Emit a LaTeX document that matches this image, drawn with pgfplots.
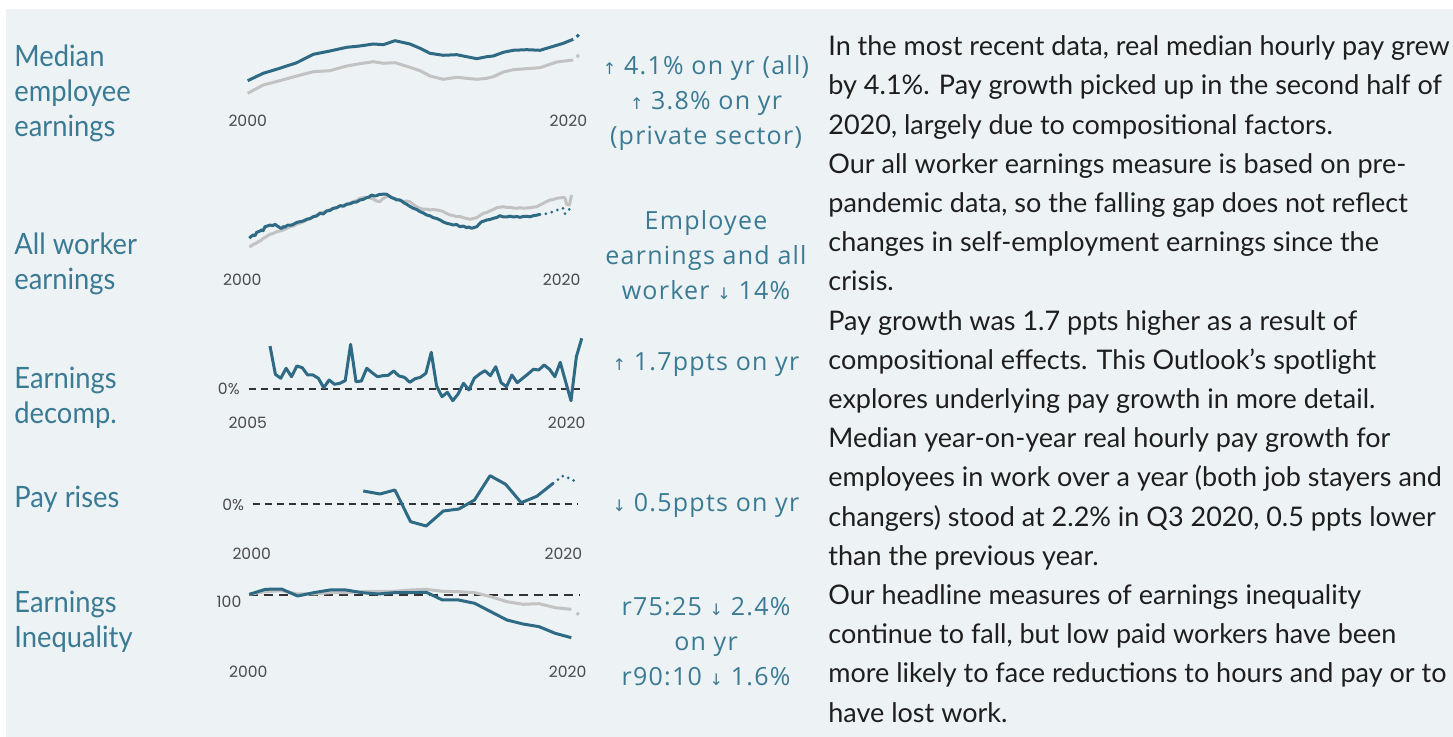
\documentclass[border=0pt]{standalone}
\usepackage{pgfplots}
\pgfplotsset{compat=1.18}
\usepackage{fontspec}
\setmainfont{Lato}
\newfontfamily\bodyfont[FakeStretch=0.93]{Lato}
\newfontfamily\parafont{Lato}
\newfontfamily\midfont[LetterSpace=5]{Open Sans}
\newfontfamily\tickfont{Poppins}
\newfontfamily\symfont{DejaVu Sans}

\definecolor{bg}{HTML}{EDF2F5}
\definecolor{linec}{HTML}{2E6A84}
\definecolor{labc}{HTML}{3A7A93}
\definecolor{lgrey}{HTML}{C2C2C2}
\definecolor{tickc}{HTML}{4A4A4A}
\definecolor{txt}{HTML}{1E1E1E}

\newcommand\up{{\symfont\fontsize{8}{8}\selectfont ↑}}
\newcommand\dn{{\symfont\fontsize{8}{8}\selectfont ↓}}

\pgfplotsset{spark/.style={hide axis, clip=false, anchor=south west}}
\tikzset{
  lab/.style={anchor=base west, inner sep=0, text=labc, font=\bodyfont\fontsize{14.7}{17}\selectfont},
  mid/.style={anchor=base, inner sep=0, text=labc, font=\midfont\fontsize{12.5}{14}\selectfont},
  tick/.style={inner sep=0, text=tickc, font=\tickfont\fontsize{7.8}{8}\selectfont},
  para/.style={anchor=base west, inner sep=0, text=txt, font=\parafont\fontsize{13.5}{16}\selectfont},
  solidl/.style={line width=1.5pt, line join=round},
  dotl/.style={line width=1.5pt, line cap=round, dash pattern=on 0pt off 3pt},
  zero/.style={line width=1pt, color=black!80, dash pattern=on 3.5pt off 2.5pt}
}

\begin{document}
\begin{tikzpicture}[x=0.5pt, y=-0.5pt]
\path[use as bounding box] (0,0) rectangle (1453,737);
\fill[white] (0,0) rectangle (1453,737);
\fill[bg] (6,9) rectangle (1453,737);

% ---- median employee earnings
\begin{axis}[spark, at={(123.85pt,-55pt)}, x=8.015pt, y=0.5pt,
  xmin=2000, xmax=2021, ymin=0, ymax=80]
\addplot[lgrey, solidl] coordinates {(2000.0,16.7) (2000.97,25.0) (2002.0,29.3) (2003.06,34.0) (2004.1,38.3) (2005.13,39.3) (2006.18,44.0) (2007.0,46.3) (2007.84,48.3) (2008.46,46.7) (2009.19,47.3) (2010.12,42.7) (2010.75,39.3) (2011.37,34.0) (2012.2,30.7) (2013.04,32.7) (2013.66,31.7) (2014.29,30.7) (2014.91,31.7) (2015.32,33.3) (2015.95,38.0) (2016.57,40.3) (2017.4,41.3) (2018.24,42.3) (2018.86,45.7) (2019.28,48.0) (2020.31,50.0)};
\addplot[linec, solidl] coordinates {(2000.0,29.3) (2000.97,36.7) (2002.0,41.7) (2003.06,47.3) (2004.1,55.7) (2005.13,59.0) (2006.18,62.7) (2007.0,64.0) (2007.84,66.0) (2008.46,65.3) (2009.19,69.3) (2010.12,66.0) (2010.75,61.7) (2011.37,56.7) (2012.2,54.7) (2013.04,55.3) (2013.66,53.3) (2014.29,51.3) (2014.91,53.3) (2015.32,54.0) (2015.95,57.7) (2016.57,59.7) (2017.4,60.3) (2018.24,59.7) (2018.86,62.7) (2019.69,66.7) (2020.31,70.7)};
\addplot[only marks, mark=*, mark size=0.8pt, lgrey] coordinates {(2020.59,54.0)};
\addplot[only marks, mark=*, mark size=0.8pt, linec] coordinates {(2020.59,74.3)};
\end{axis}

% ---- all worker earnings
\begin{axis}[spark, at={(121.15pt,-130pt)}, x=7.985pt, y=0.5pt,
  xmin=2000, xmax=2021, ymin=0, ymax=80]
\addplot[lgrey, solidl] coordinates {(2000.44,13.3) (2000.55,14.0) (2000.69,15.7) (2000.85,16.5) (2001.00,18.3) (2001.16,19.5) (2001.32,21.7) (2001.52,23.5) (2001.73,25.7) (2001.94,26.5) (2002.15,28.3) (2002.36,29.0) (2002.57,30.0) (2002.78,31.5) (2002.99,33.3) (2003.20,34.0) (2003.40,35.7) (2003.72,37.5) (2004.03,40.0) (2004.24,41.0) (2004.45,43.3) (2004.66,45.0) (2004.87,47.3) (2005.07,47.8) (2005.28,49.0) (2005.49,50.5) (2005.70,51.7) (2005.91,52.5) (2006.12,54.0) (2006.33,54.8) (2006.54,56.0) (2006.75,57.0) (2006.95,58.3) (2007.16,59.5) (2007.37,61.7) (2007.58,62.5) (2007.79,62.7) (2008.00,62.0) (2008.20,61.0) (2008.41,59.0) (2008.62,58.3) (2008.78,61.0) (2008.94,62.7) (2009.10,63.5) (2009.25,63.3) (2009.46,62.0) (2009.67,61.0) (2009.88,59.5) (2010.08,58.3) (2010.29,59.0) (2010.50,58.3) (2010.71,55.5) (2010.92,53.3) (2011.13,51.5) (2011.34,50.7) (2011.54,50.8) (2011.75,50.0) (2011.96,50.5) (2012.17,50.0) (2012.38,49.5) (2012.59,48.3) (2012.80,46.5) (2013.01,45.0) (2013.21,44.5) (2013.42,43.3) (2013.63,43.5) (2013.84,42.3) (2014.05,41.5) (2014.26,40.7) (2014.47,41.5) (2014.68,42.3) (2014.88,44.5) (2015.09,46.7) (2015.30,47.5) (2015.51,49.0) (2015.72,50.5) (2015.93,52.3) (2016.14,52.8) (2016.35,53.3) (2016.55,52.5) (2016.76,52.7) (2016.97,52.0) (2017.18,51.7) (2017.39,52.3) (2017.60,51.7) (2017.81,52.0) (2018.01,52.3) (2018.22,52.8) (2018.43,53.3) (2018.64,55.0) (2018.85,56.7) (2019.06,58.5) (2019.27,60.0) (2019.48,60.5) (2019.69,61.7) (2019.85,62.0) (2020.00,62.3) (2020.10,62.8) (2020.21,61.7) (2020.31,55.7) (2020.48,55.0) (2020.62,65.0)};
\addplot[linec, solidl] coordinates {(2000.44,21.7) (2000.55,23.5) (2000.69,25.0) (2000.80,24.3) (2000.90,27.7) (2001.05,28.5) (2001.21,30.0) (2001.30,29.2) (2001.42,33.3) (2001.58,34.0) (2001.73,35.0) (2001.90,34.3) (2002.05,35.7) (2002.15,34.5) (2002.26,33.3) (2002.37,32.0) (2002.47,31.7) (2002.57,33.5) (2002.67,32.7) (2002.78,34.3) (2002.88,35.0) (2003.04,34.7) (2003.20,35.7) (2003.40,37.5) (2003.61,38.3) (2003.82,39.0) (2004.03,40.7) (2004.24,41.5) (2004.45,43.3) (2004.66,44.0) (2004.87,46.7) (2005.07,46.0) (2005.28,49.0) (2005.49,49.5) (2005.70,51.7) (2005.91,52.2) (2006.12,54.3) (2006.33,53.8) (2006.54,55.7) (2006.75,56.2) (2006.95,57.7) (2007.16,58.0) (2007.37,60.0) (2007.58,60.6) (2007.79,62.3) (2007.95,63.0) (2008.10,65.0) (2008.25,64.0) (2008.41,64.3) (2008.57,65.5) (2008.73,65.7) (2008.90,66.0) (2009.04,65.7) (2009.20,64.0) (2009.35,62.3) (2009.50,61.5) (2009.67,60.0) (2009.83,60.2) (2009.98,59.0) (2010.14,57.0) (2010.29,55.7) (2010.50,53.5) (2010.71,51.7) (2010.92,50.5) (2011.13,48.3) (2011.34,47.0) (2011.54,45.0) (2011.75,44.2) (2011.96,42.3) (2012.17,41.5) (2012.38,40.0) (2012.59,38.0) (2012.80,36.7) (2013.00,36.0) (2013.21,35.0) (2013.42,35.5) (2013.63,33.3) (2013.84,34.0) (2014.05,32.3) (2014.20,33.0) (2014.36,31.7) (2014.52,32.5) (2014.68,33.3) (2014.84,36.0) (2014.99,38.3) (2015.15,39.0) (2015.30,40.0) (2015.51,40.5) (2015.72,41.7) (2015.93,42.5) (2016.14,44.3) (2016.35,43.0) (2016.55,43.0) (2016.76,43.8) (2016.97,43.0) (2017.18,43.5) (2017.39,42.7) (2017.60,43.5) (2017.81,43.7) (2018.01,43.2) (2018.22,44.3) (2018.43,44.8) (2018.64,45.7)};
\addplot[linec, dotl] coordinates {(2018.64,45.7) (2019.06,46.3) (2019.48,48.3) (2019.89,51.0) (2020.10,51.7) (2020.21,46.3) (2020.48,50.7) (2020.62,55.7)};
\end{axis}

% ---- earnings decomposition
\begin{axis}[spark, at={(124.25pt,-204.5pt)}, x=10.75pt, y=5pt,
  xmin=2005, xmax=2021, ymin=-2, ymax=6]
\addplot[zero] coordinates {(2005,0) (2020.42,0)};
\addplot[linec, solidl] coordinates {(2006.00,4.30) (2006.25,1.47) (2006.50,1.07) (2006.75,2.07) (2007.00,1.23) (2007.25,2.30) (2007.50,2.13) (2007.75,1.40) (2008.00,1.40) (2008.25,1.07) (2008.50,0.13) (2008.75,0.90) (2009.00,0.47) (2009.25,0.57) (2009.50,0.83) (2009.75,4.47) (2010.00,0.73) (2010.25,0.80) (2010.50,2.07) (2010.75,1.63) (2011.00,1.23) (2011.25,1.33) (2011.50,1.37) (2011.75,1.80) (2012.00,1.30) (2012.25,1.17) (2012.50,0.67) (2012.75,1.03) (2013.00,1.17) (2013.25,1.57) (2013.50,3.67) (2013.75,0.30) (2014.00,-0.77) (2014.25,-0.33) (2014.50,-1.17) (2014.75,-0.50) (2015.00,0.57) (2015.25,-0.10) (2015.50,1.07) (2015.75,1.50) (2016.00,1.83) (2016.25,1.33) (2016.50,2.23) (2016.75,0.63) (2017.00,0.23) (2017.25,1.40) (2017.50,0.63) (2017.75,1.07) (2018.00,1.50) (2018.25,1.97) (2018.50,1.90) (2018.75,2.40) (2019.00,1.97) (2019.25,1.23) (2019.50,2.67) (2019.75,0.73) (2020.00,-1.17) (2020.25,3.23) (2020.50,5.07)};
\end{axis}

% ---- pay rises
\begin{axis}[spark, at={(125.85pt,-267.15pt)}, x=7.79pt, y=5pt,
  xmin=2000, xmax=2021.5, ymin=-3, ymax=4]
\addplot[zero] coordinates {(2000.06,0) (2020.96,0)};
\addplot[linec, solidl] coordinates {(2007.16,1.33) (2008.23,1.03) (2009.19,1.43) (2010.20,-1.74) (2011.20,-2.17) (2012.30,-0.67) (2013.30,-0.47) (2014.30,0.43) (2015.30,2.86) (2016.30,2.00) (2017.30,0.16) (2018.30,0.80) (2019.35,2.10)};
\addplot[linec, dotl] coordinates {(2019.35,2.10) (2020.00,2.86) (2020.75,2.33)};
\end{axis}

% ---- earnings inequality
\begin{axis}[spark, at={(124.65pt,-325.5pt)}, x=8.05pt, y=2pt,
  xmin=2000, xmax=2021, ymin=86, ymax=104]
\addplot[line width=1.3pt, color=black!80, dash pattern=on 4.5pt off 3pt] coordinates {(2000,100) (2020.54,100)};
\addplot[lgrey, solidl] coordinates {(2000,100.17) (2001,100.83) (2002,101.08) (2003,100.25) (2004,100.25) (2005,100.58) (2006,100.58) (2007,100.83) (2008,100.92) (2009,100.92) (2010,101.25) (2011,101.42) (2012,100.92) (2013,100.83) (2014,100.58) (2015,99.58) (2016,98.33) (2017,97.67) (2018,97.83) (2019,96.83) (2020,96.42)};
\addplot[linec, solidl] coordinates {(2000,100.17) (2001,101.42) (2002,101.50) (2003,99.75) (2004,100.58) (2005,101.25) (2006,101.25) (2007,100.58) (2008,100.25) (2009,100.58) (2010,100.58) (2011,100.67) (2012,98.75) (2013,98.75) (2014,97.92) (2015,95.83) (2016,93.75) (2017,92.75) (2018,92.08) (2019,90.42) (2020,89.33)};
\addplot[only marks, mark=*, mark size=0.8pt, lgrey] coordinates {(2020.4,95.33)};
\end{axis}

% ---- tick labels
\node[tick] at (247.7,120.5) {2000};
\node[tick] at (568.3,120.5) {2020};
\node[tick] at (242.3,280) {2000};
\node[tick] at (561.7,280) {2020};
\node[tick] at (247.7,423) {2005};
\node[tick] at (566.7,423) {2020};
\node[tick, anchor=east] at (240,389) {0\%};
\node[tick] at (251.7,554) {2000};
\node[tick] at (563.3,554) {2020};
\node[tick, anchor=east] at (244.3,505) {0\%};
\node[tick] at (248.3,672) {2000};
\node[tick] at (567.7,672) {2020};
\node[tick, anchor=east] at (241.7,602) {100};

% ---- row labels
\node[lab] at (14,66.5) {Median};
\node[lab] at (14,101.5) {employee};
\node[lab] at (14,136.5) {earnings};
\node[lab] at (14,254.5) {All worker};
\node[lab] at (14,289.5) {earnings};
\node[lab] at (14,388.5) {Earnings};
\node[lab] at (14,423.5) {decomp.};
\node[lab] at (14,507.5) {Pay rises};
\node[lab] at (14,612.5) {Earnings};
\node[lab] at (14,647.5) {Inequality};

% ---- headline changes
\node[mid] at (706,74.5) {\up\ 4.1\% on yr (all)};
\node[mid] at (706,109.5) {\up\ 3.8\% on yr};
\node[mid] at (706,144.5) {(private sector)};
\node[mid] at (706,230) {Employee};
\node[mid] at (706,265) {earnings and all};
\node[mid] at (706,300) {worker \dn\ 14\%};
\node[mid] at (706,371) {\up\ 1.7ppts on yr};
\node[mid] at (706,512) {\dn\ 0.5ppts on yr};
\node[mid] at (706,616) {r75:25 \dn\ 2.4\%};
\node[mid] at (706,651) {on yr};
\node[mid] at (706,686) {r90:10 \dn\ 1.6\%};

% ---- commentary
\foreach \t [count=\i from 0] in {
  {In the most recent data, real median hourly pay grew},
  {by 4.1\%. Pay growth picked up in the second half of},
  {2020, largely due to compositional factors.},
  {Our all worker earnings measure is based on pre-},
  {pandemic data, so the falling gap does not reflect},
  {changes in self-employment earnings since the},
  {crisis.},
  {Pay growth was 1.7 ppts higher as a result of},
  {compositional effects. This Outlook’s spotlight},
  {explores underlying pay growth in more detail.},
  {Median year-on-year real hourly pay growth for},
  {employees in work over a year (both job stayers and},
  {changers) stood at 2.2\% in Q3 2020, 0.5 ppts lower},
  {than the previous year.},
  {Our headline measures of earnings inequality},
  {continue to fall, but low paid workers have been},
  {more likely to face reductions to hours and pay or to},
  {have lost work.}}
  \node[para] at (828,55.7+39.2*\i) {\t};
\end{tikzpicture}
\end{document}
